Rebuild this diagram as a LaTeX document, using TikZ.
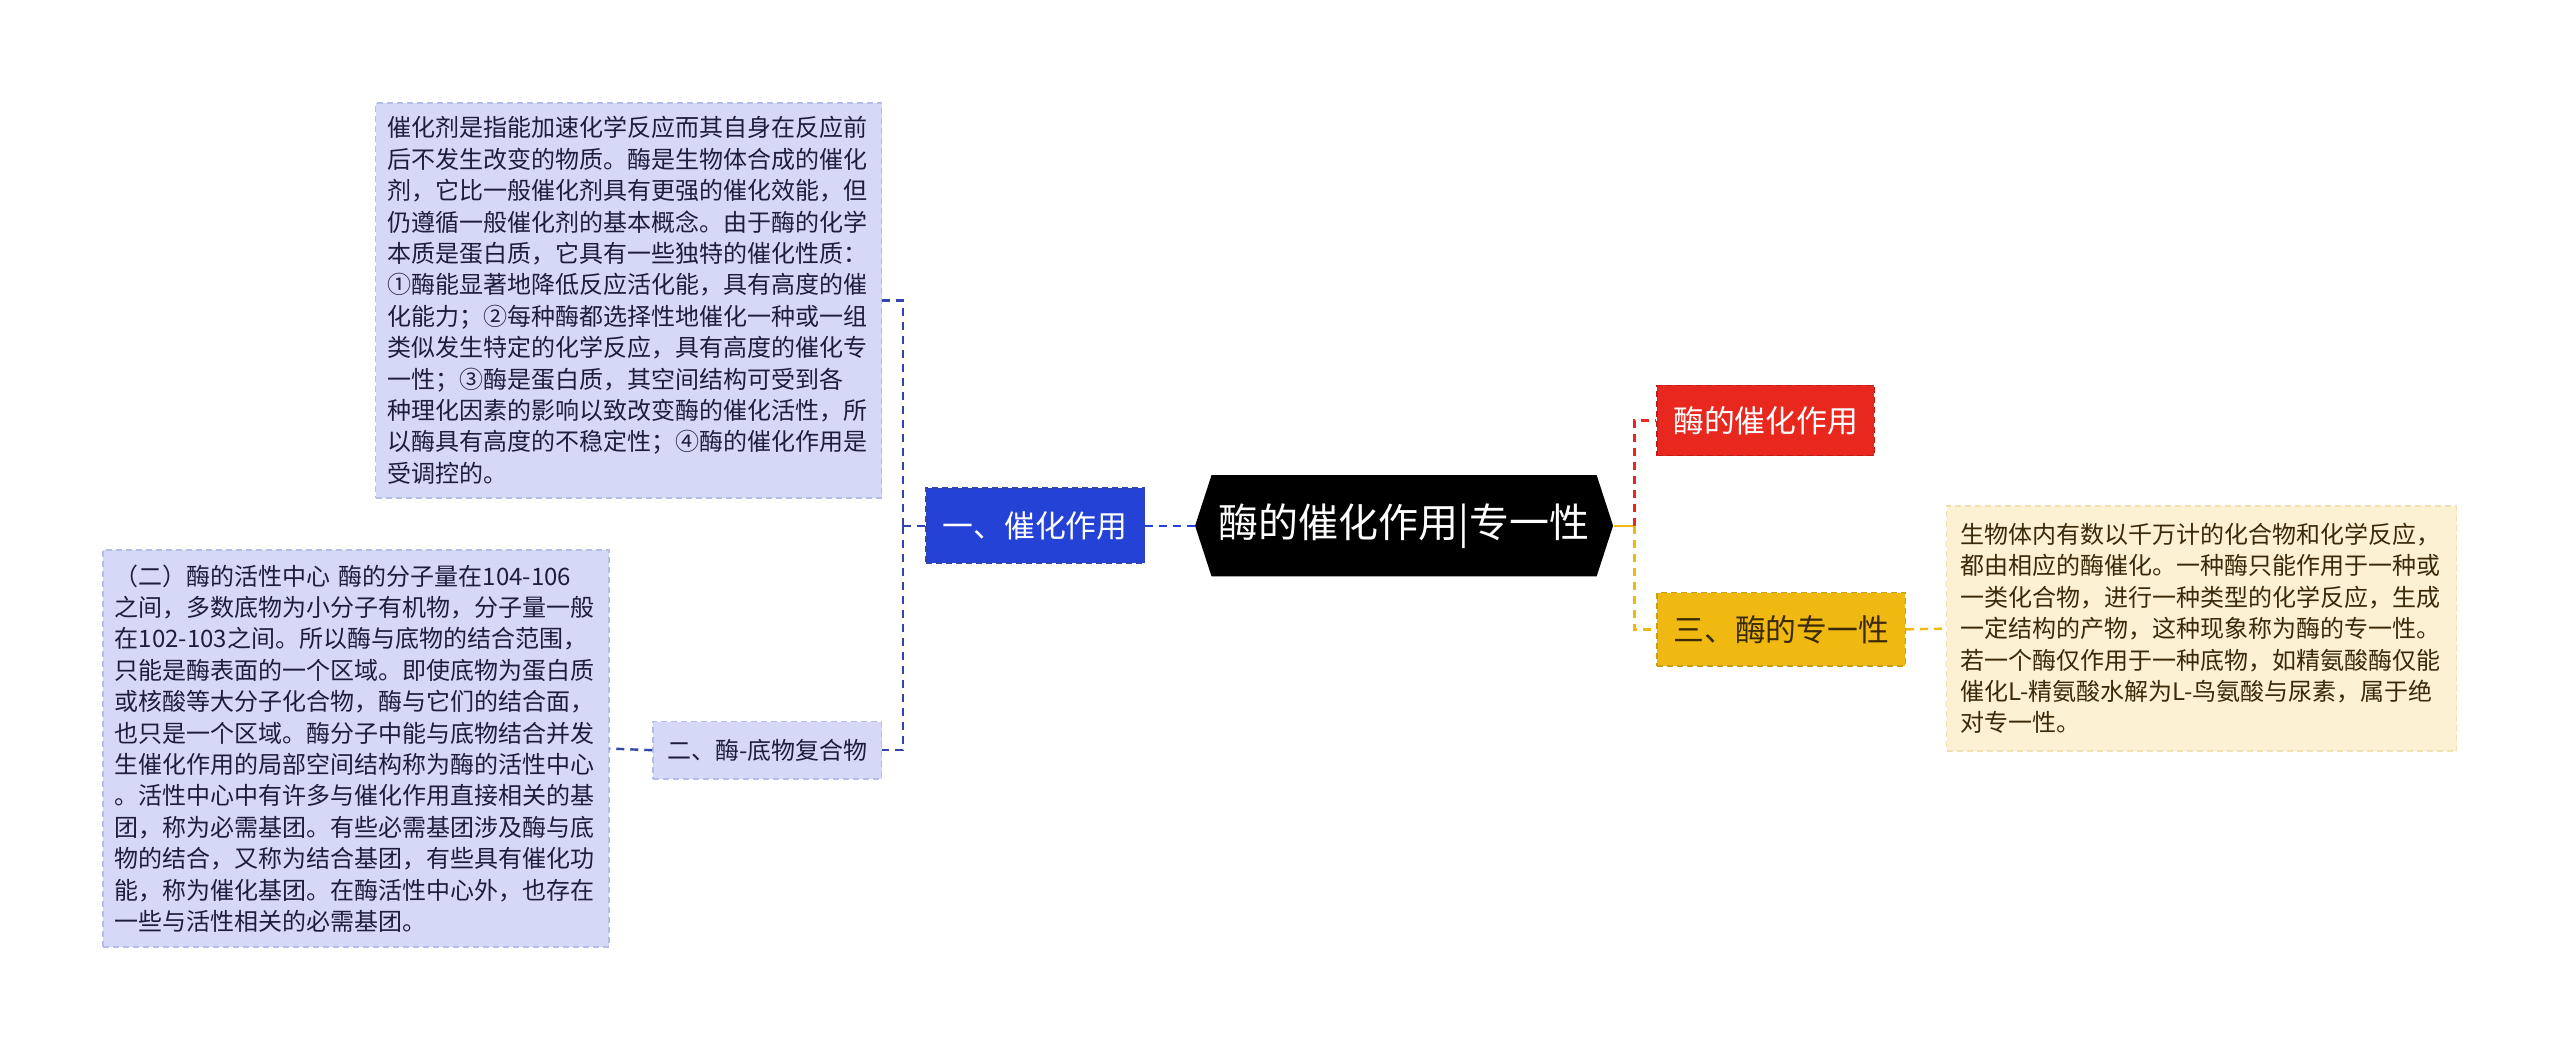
\documentclass[tikz,border=0pt]{standalone}
\usepackage{fontspec}
\setmainfont{Noto Sans CJK SC}
\usepackage{xcolor}
\usepackage{tikz}
\usetikzlibrary{shapes.symbols}
\definecolor{navy}{HTML}{3346A8}
\definecolor{bluefill}{HTML}{2442D6}
\definecolor{lavfill}{HTML}{D5D9F7}
\definecolor{lavline}{HTML}{B4BCEA}
\definecolor{redfill}{HTML}{E8281E}
\definecolor{yelfill}{HTML}{F0B912}
\definecolor{creamfill}{HTML}{FDF1D3}
\definecolor{creamline}{HTML}{F3E0B0}
\definecolor{inkdark}{HTML}{1E1E3C}
\definecolor{inkbrown}{HTML}{3A2A08}
\tikzset{
  bx/.style={rectangle,line width=0.8pt,dash pattern=on 3pt off 2pt,inner sep=0pt},
  note/.style={bx,align=left,text width=241pt,inner xsep=6pt,
    font=\fontsize{12pt}{15.7pt}\selectfont},
  lnk/.style={line width=1.2pt,dash pattern=on 4pt off 3pt}
}
\begin{document}
\begin{tikzpicture}[x=0.8163pt,y=-0.8163pt]
\useasboundingbox (0,0) rectangle (1568,644);
% centre
\node[signal,signal to=west and east,signal pointer angle=144,fill=black,
  text=white,minimum width=209pt,minimum height=50.6pt,inner sep=0pt,
  font=\fontsize{20pt}{24pt}\selectfont] (root) at (860,322) {酶的催化作用|专一性};
% left side
\node[bx,fill=bluefill,draw=navy,text=white,minimum width=109.4pt,minimum height=37.5pt,
  font=\fontsize{15.4pt}{18pt}\selectfont] (cat) at (634,322) {一、催化作用};
\node[bx,fill=lavfill,draw=lavline,text=inkdark,minimum width=114.3pt,minimum height=28.6pt,
  font=\fontsize{12pt}{14pt}\selectfont] (cplx) at (470,459.5) {二、酶-底物复合物};
\node[note,fill=lavfill,draw=lavline,text=inkdark,minimum height=197.5pt] (catnote) at (385,184)
{催化剂是指能加速化学反应而其自身在反应前\\
后不发生改变的物质。酶是生物体合成的催化\\
剂，它比一般催化剂具有更强的催化效能，但\\
仍遵循一般催化剂的基本概念。由于酶的化学\\
本质是蛋白质，它具有一些独特的催化性质：\\
①酶能显著地降低反应活化能，具有高度的催\\
化能力；②每种酶都选择性地催化一种或一组\\
类似发生特定的化学反应，具有高度的催化专\\
一性；③酶是蛋白质，其空间结构可受到各\\
种理化因素的影响以致改变酶的催化活性，所\\
以酶具有高度的不稳定性；④酶的催化作用是\\
受调控的。};
\node[note,fill=lavfill,draw=lavline,text=inkdark,minimum height=198.4pt] (cplxnote) at (218,458.5)
{（二）酶的活性中心 酶的分子量在104-106\\
之间，多数底物为小分子有机物，分子量一般\\
在102-103之间。所以酶与底物的结合范围，\\
只能是酶表面的一个区域。即使底物为蛋白质\\
或核酸等大分子化合物，酶与它们的结合面，\\
也只是一个区域。酶分子中能与底物结合并发\\
生催化作用的局部空间结构称为酶的活性中心\\
。活性中心中有许多与催化作用直接相关的基\\
团，称为必需基团。有些必需基团涉及酶与底\\
物的结合，又称为结合基团，有些具有催化功\\
能，称为催化基团。在酶活性中心外，也存在\\
一些与活性相关的必需基团。};
% right side
\node[bx,fill=redfill,draw=redfill!80!black,text=white,minimum width=108.6pt,minimum height=35.1pt,
  font=\fontsize{15.4pt}{18pt}\selectfont] (act) at (1081.5,257.5) {酶的催化作用};
\node[bx,fill=yelfill,draw=yelfill!85!black,text=inkbrown,minimum width=124.1pt,minimum height=36.7pt,
  font=\fontsize{15.4pt}{18pt}\selectfont] (spec) at (1091,385.5) {三、酶的专一性};
\node[note,fill=creamfill,draw=creamline,text=inkbrown,inner xsep=7pt,minimum height=122.4pt] (specnote) at (1348.5,385)
{生物体内有数以千万计的化合物和化学反应，\\
都由相应的酶催化。一种酶只能作用于一种或\\
一类化合物，进行一种类型的化学反应，生成\\
一定结构的产物，这种现象称为酶的专一性。\\
若一个酶仅作用于一种底物，如精氨酸酶仅能\\
催化L-精氨酸水解为L-鸟氨酸与尿素，属于绝\\
对专一性。};
% connectors
\coordinate (jl) at (553,322);
\coordinate (jr) at (1001,322);
\draw[lnk,bluefill] (root.west) -- (cat.east);
\draw[lnk,navy] (cat.west) -- (jl);
\draw[lnk,navy] (jl) |- (catnote.east);
\draw[lnk,navy] (jl) |- (cplx.east);
\draw[lnk,navy] (cplx.west) -- (cplxnote.east);
\draw[line width=1.2pt,yelfill] (root.east) -- (jr);
\draw[lnk,redfill] (jr) |- (act.west);
\draw[lnk,yelfill] (jr) |- (spec.west);
\draw[lnk,yelfill] (spec.east) -- (specnote.west);
\end{tikzpicture}
\end{document}
